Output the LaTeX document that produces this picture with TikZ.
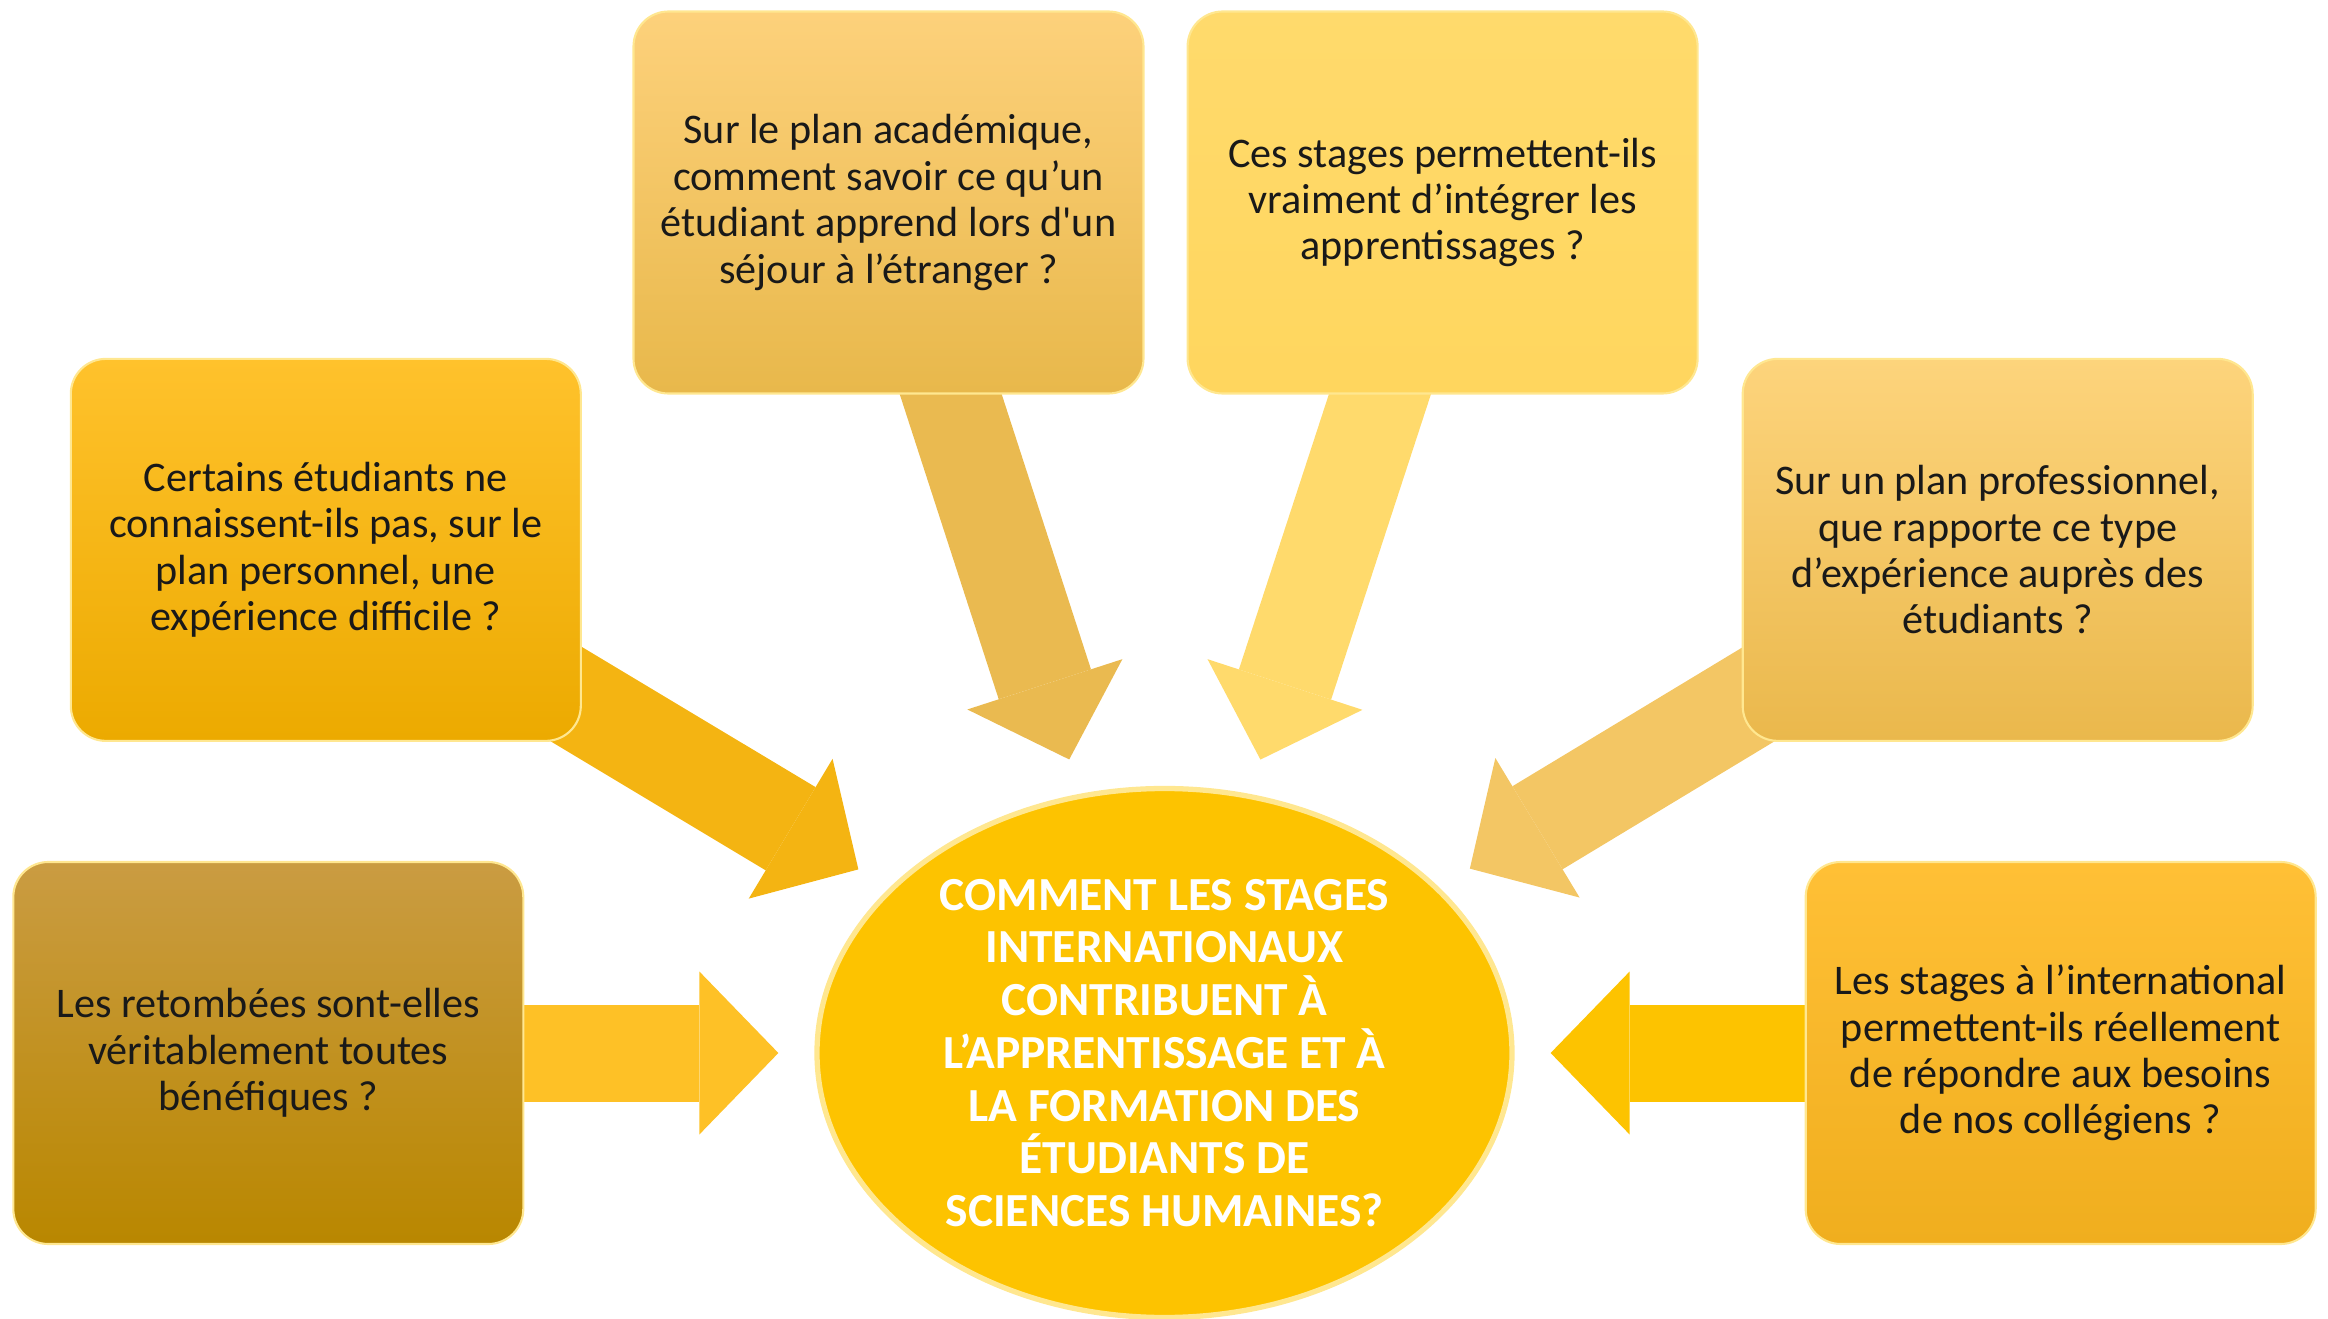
\documentclass[tikz,border=0pt]{standalone}
\usepackage{fontspec}
\setmainfont{Carlito}
\usepackage{tikz}
\usetikzlibrary{positioning,arrows.meta,backgrounds,shapes.geometric}

\definecolor{acadtop}{HTML}{FDD17B}
\definecolor{acadbot}{HTML}{E8B84B}
\definecolor{integtop}{HTML}{FFDA6C}
\definecolor{integbot}{HTML}{FFD65E}
\definecolor{persotop}{HTML}{FFC22C}
\definecolor{persobot}{HTML}{ECAA00}
\definecolor{protop}{HTML}{FDD47C}
\definecolor{probot}{HTML}{EAB84C}
\definecolor{retombtop}{HTML}{CA9C42}
\definecolor{retombbot}{HTML}{B98700}
\definecolor{besointop}{HTML}{FFC036}
\definecolor{besoinbot}{HTML}{F0AE1E}
\definecolor{centrefill}{HTML}{FDC300}
\definecolor{rim}{HTML}{FFE790}

\begin{document}
\begin{tikzpicture}[
    qbox/.style={rounded corners=0.35cm, minimum width=5.1cm, minimum height=3.82cm,
      align=center, draw=rim, line width=0.6pt, text=black!90,
      font=\fontsize{12}{13.2}\selectfont},
    bigarrow/.style={line width=0.97cm, shorten >=0.36cm,
      -{Triangle[width=1.63cm,length=0.79cm,line width=0pt]}}
  ]
    \useasboundingbox (0,0) rectangle (23.28,13.18);

    \node [ellipse, fill=centrefill, draw=rim, line width=1.5pt, inner sep=0pt,
      minimum width=6.95cm, minimum height=5.29cm, align=center, text=white,
      font=\bfseries\fontsize{13.5}{15}\selectfont] (centre) at (11.645,2.65)
      {COMMENT LES STAGES\\ INTERNATIONAUX\\ CONTRIBUENT À\\ L’APPRENTISSAGE ET À\\ LA FORMATION DES\\ ÉTUDIANTS DE\\ SCIENCES HUMAINES?};

    \node [qbox, top color=retombtop, bottom color=retombbot, left=2.9cm of centre] (retomb)
      {Les retombées sont-elles\\ véritablement toutes\\ bénéfiques ?};
    \node [qbox, top color=besointop, bottom color=besoinbot, right=2.9cm of centre] (besoin)
      {Les stages à l’international\\ permettent-ils réellement\\ de répondre aux besoins\\ de nos collégiens ?};
    \node [qbox, top color=persotop, bottom color=persobot, above=1.19cm of retomb, xshift=0.575cm] (perso)
      {Certains étudiants ne\\ connaissent-ils pas, sur le\\ plan personnel, une\\ expérience difficile ?};
    \node [qbox, top color=protop, bottom color=probot, above=1.19cm of besoin, xshift=-0.63cm] (pro)
      {Sur un plan professionnel,\\ que rapporte ce type\\ d’expérience auprès des\\ étudiants ?};
    \node [qbox, top color=acadtop, bottom color=acadbot] (acad) at (8.885,11.155)
      {Sur le plan académique,\\ comment savoir ce qu’un\\ étudiant apprend lors d\textquotesingle un\\ séjour à l’étranger ?};
    \node [qbox, top color=integtop, bottom color=integbot, right=0.42cm of acad] (integ)
      {Ces stages permettent-ils\\ vraiment d’intégrer les\\ apprentissages ?};

    \begin{pgfonlayer}{background}
      \draw [bigarrow, color=acadbot!90!acadtop] (acad.center) -- (centre);
      \draw [bigarrow, color=integtop] (integ.center) -- (centre);
      \draw [bigarrow, color=persobot!60!persotop] (perso.center) -- (centre);
      \draw [bigarrow, color=probot!50!protop] (pro.center) -- (centre);
      \draw [bigarrow, color=besointop!70!centrefill] (retomb.center) -- (centre);
      \draw [bigarrow, color=centrefill] (besoin.center) -- (centre);
    \end{pgfonlayer}
\end{tikzpicture}
\end{document}
